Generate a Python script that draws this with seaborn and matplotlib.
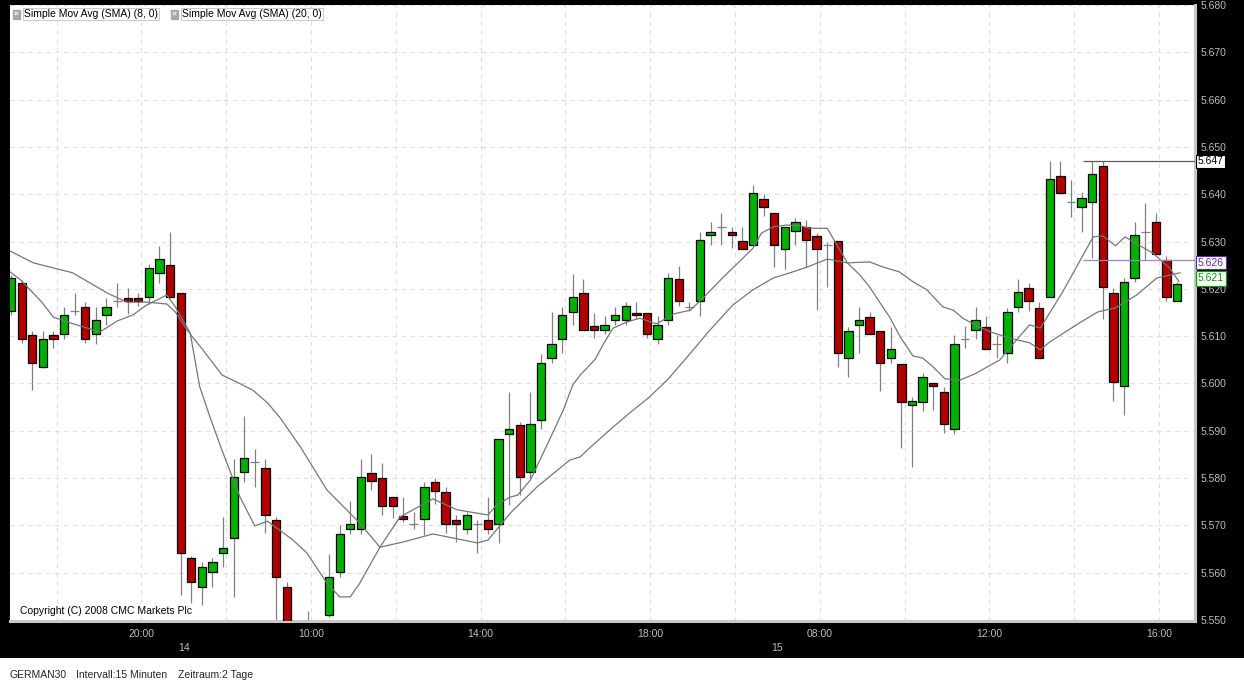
import matplotlib
matplotlib.use("Agg")
import matplotlib.pyplot as plt
import matplotlib.transforms as mtransforms
from matplotlib.patches import Rectangle
import seaborn as sns
import numpy as np

# GERMAN30, 15 minute candles (index 0 = first candle on the left)
opens = [5.6153, 5.6212, 5.6102, 5.6035, 5.6102, 5.6105, 5.6153, 5.6162, 5.6105, 5.6145,
         5.6174, 5.6181, 5.6181, 5.6183, 5.6234, 5.6250, 5.6191, 5.5631, 5.5570, 5.5602,
         5.5642, 5.5673, 5.5813, 5.5834, 5.5821, 5.5711, 5.5570, 5.5480, 5.5450, 5.5470,
         5.5511, 5.5602, 5.5692, 5.5692, 5.5811, 5.5800, 5.5760, 5.5720, 5.5703, 5.5714,
         5.5792, 5.5771, 5.5711, 5.5692, 5.5703, 5.5711, 5.5703, 5.5893, 5.5912, 5.5813,
         5.5923, 5.6054, 5.6094, 5.6151, 5.6191, 5.6122, 5.6113, 5.6134, 5.6134, 5.6149,
         5.6149, 5.6094, 5.6134, 5.6221, 5.6162, 5.6174, 5.6314, 5.6331, 5.6320, 5.6301,
         5.6293, 5.6390, 5.6360, 5.6284, 5.6322, 5.6331, 5.6312, 5.6293, 5.6301, 5.6054,
         5.6124, 5.6140, 5.6111, 5.6054, 5.6041, 5.5955, 5.5961, 5.6001, 5.5982, 5.5904,
         5.6094, 5.6113, 5.6119, 5.6083, 5.6064, 5.6162, 5.6202, 5.6160, 5.6183, 5.6439,
         5.6384, 5.6373, 5.6384, 5.6460, 5.6191, 5.5995, 5.6223, 5.6320, 5.6341, 5.6261,
         5.6174]
highs = [5.6230, 5.6219, 5.6111, 5.6111, 5.6111, 5.6162, 5.6191, 5.6172, 5.6162, 5.6181,
         5.6212, 5.6202, 5.6191, 5.6253, 5.6291, 5.6320, 5.6191, 5.5635, 5.5623, 5.5631,
         5.5718, 5.5840, 5.5931, 5.5862, 5.5840, 5.5718, 5.5580, 5.5490, 5.5519, 5.5490,
         5.5640, 5.5701, 5.5752, 5.5840, 5.5851, 5.5832, 5.5760, 5.5760, 5.5728, 5.5792,
         5.5800, 5.5781, 5.5722, 5.5728, 5.5711, 5.5760, 5.5883, 5.5982, 5.5919, 5.5982,
         5.6062, 5.6151, 5.6162, 5.6231, 5.6221, 5.6149, 5.6143, 5.6162, 5.6172, 5.6172,
         5.6149, 5.6143, 5.6234, 5.6248, 5.6172, 5.6320, 5.6341, 5.6360, 5.6331, 5.6331,
         5.6420, 5.6400, 5.6360, 5.6331, 5.6350, 5.6346, 5.6318, 5.6299, 5.6301, 5.6119,
         5.6162, 5.6151, 5.6111, 5.6119, 5.6041, 5.5971, 5.6022, 5.6001, 5.5993, 5.6102,
         5.6122, 5.6162, 5.6143, 5.6102, 5.6160, 5.6221, 5.6212, 5.6172, 5.6470, 5.6470,
         5.6430, 5.6405, 5.6470, 5.6470, 5.6202, 5.6223, 5.6341, 5.6381, 5.6360, 5.6270,
         5.6215]
lows = [5.6145, 5.6086, 5.5986, 5.6033, 5.6075, 5.6094, 5.6145, 5.6086, 5.6083, 5.6124,
        5.6162, 5.6147, 5.6164, 5.6168, 5.6212, 5.6181, 5.5553, 5.5536, 5.5532, 5.5570,
        5.5612, 5.5549, 5.5792, 5.5781, 5.5684, 5.5495, 5.5460, 5.5430, 5.5425, 5.5440,
        5.5506, 5.5591, 5.5682, 5.5682, 5.5775, 5.5722, 5.5716, 5.5707, 5.5692, 5.5680,
        5.5745, 5.5684, 5.5665, 5.5682, 5.5642, 5.5682, 5.5663, 5.5743, 5.5764, 5.5800,
        5.5904, 5.6043, 5.6064, 5.6124, 5.6113, 5.6096, 5.6105, 5.6124, 5.6124, 5.6136,
        5.6096, 5.6083, 5.6124, 5.6164, 5.6153, 5.6143, 5.6293, 5.6293, 5.6286, 5.6284,
        5.6293, 5.6354, 5.6246, 5.6242, 5.6293, 5.6246, 5.6155, 5.6204, 5.6035, 5.6014,
        5.6064, 5.6105, 5.5984, 5.6043, 5.5864, 5.5823, 5.5942, 5.5944, 5.5895, 5.5893,
        5.6075, 5.6094, 5.6073, 5.6054, 5.6043, 5.6151, 5.6153, 5.6054, 5.6183, 5.6403,
        5.6352, 5.6320, 5.6265, 5.6136, 5.5963, 5.5933, 5.6215, 5.6261, 5.6274, 5.6174,
        5.6174]
closes = [5.6223, 5.6094, 5.6043, 5.6094, 5.6094, 5.6145, 5.6153, 5.6094, 5.6134, 5.6162,
          5.6174, 5.6174, 5.6174, 5.6244, 5.6263, 5.6183, 5.5642, 5.5580, 5.5612, 5.5623,
          5.5652, 5.5802, 5.5843, 5.5834, 5.5722, 5.5591, 5.5480, 5.5450, 5.5470, 5.5480,
          5.5591, 5.5682, 5.5703, 5.5802, 5.5794, 5.5741, 5.5741, 5.5714, 5.5703, 5.5781,
          5.5773, 5.5703, 5.5703, 5.5722, 5.5703, 5.5692, 5.5883, 5.5904, 5.5802, 5.5914,
          5.6043, 5.6083, 5.6145, 5.6183, 5.6113, 5.6113, 5.6124, 5.6145, 5.6164, 5.6145,
          5.6105, 5.6124, 5.6223, 5.6174, 5.6162, 5.6303, 5.6320, 5.6331, 5.6314, 5.6284,
          5.6403, 5.6373, 5.6293, 5.6331, 5.6341, 5.6303, 5.6284, 5.6293, 5.6064, 5.6111,
          5.6134, 5.6105, 5.6043, 5.6073, 5.5961, 5.5963, 5.6014, 5.5995, 5.5914, 5.6083,
          5.6094, 5.6134, 5.6073, 5.6083, 5.6151, 5.6193, 5.6174, 5.6054, 5.6432, 5.6403,
          5.6384, 5.6392, 5.6443, 5.6204, 5.6003, 5.6215, 5.6314, 5.6320, 5.6274, 5.6183,
          5.6210]

# moving averages (candle index, value)
sma8_pos = [-0.1, 0.9, 2.9, 4.0, 5.6, 8.4, 10.0, 11.5, 12.8, 14.7, 15.5, 16.9, 17.8, 18.8,
            19.9, 21.6, 23.0, 24.2, 26.6, 27.9, 29.8, 31.0, 32.0, 32.9, 34.8, 36.7, 39.8,
            42.1, 45.0, 45.8, 47.1, 47.8, 49.0, 50.8, 52.1, 53.0, 53.7, 54.6, 55.1, 56.0,
            56.8, 58.1, 59.3, 60.9, 62.5, 64.1, 65.3, 67.2, 68.5, 70.0, 70.8, 71.9, 73.2,
            74.4, 75.4, 77.0, 78.9, 80.1, 81.0, 82.0, 82.9, 83.9, 85.1, 86.0, 87.0, 88.1,
            89.5, 90.9, 92.1, 93.3, 94.2, 96.1, 97.1, 99.2, 102.1, 103.0, 104.2, 105.1,
            106.2, 107.7, 109.3, 110.2]
sma8_val = [5.6236, 5.6219, 5.6172, 5.6140, 5.6128, 5.6109, 5.6132, 5.6145, 5.6166, 5.6187,
            5.6162, 5.6107, 5.5993, 5.5927, 5.5859, 5.5760, 5.5699, 5.5709, 5.5669, 5.5642,
            5.5578, 5.5549, 5.5549, 5.5578, 5.5654, 5.5718, 5.5756, 5.5733, 5.5722, 5.5743,
            5.5760, 5.5764, 5.5796, 5.5881, 5.5944, 5.5997, 5.6018, 5.6039, 5.6051, 5.6088,
            5.6117, 5.6130, 5.6138, 5.6126, 5.6147, 5.6155, 5.6181, 5.6225, 5.6253, 5.6286,
            5.6318, 5.6331, 5.6335, 5.6333, 5.6328, 5.6328, 5.6255, 5.6229, 5.6204, 5.6170,
            5.6140, 5.6098, 5.6058, 5.6054, 5.6035, 5.6010, 5.6007, 5.6020, 5.6035, 5.6050,
            5.6075, 5.6124, 5.6117, 5.6193, 5.6310, 5.6312, 5.6291, 5.6310, 5.6295, 5.6276,
            5.6244, 5.6215]
sma20_pos = [-0.1, 2.1, 5.8, 9.1, 10.9, 12.8, 14.7, 15.5, 16.6, 18.1, 19.9, 21.3, 22.8,
             24.2, 25.4, 27.3, 29.8, 32.9, 34.8, 37.0, 39.8, 44.0, 45.0, 47.1, 49.6, 52.7,
             53.7, 54.6, 56.8, 58.7, 60.1, 61.9, 64.1, 65.7, 68.1, 70.0, 71.9, 73.5, 75.1,
             77.0, 78.9, 81.0, 82.3, 83.8, 85.1, 86.4, 87.9, 88.9, 89.8, 91.1, 92.4, 94.2,
             96.1, 97.1, 98.0, 100.8, 102.5, 104.2, 106.2, 108.1, 109.3, 110.3]
sma20_val = [5.6280, 5.6255, 5.6234, 5.6191, 5.6172, 5.6172, 5.6168, 5.6151, 5.6113, 5.6071,
             5.6018, 5.6003, 5.5986, 5.5959, 5.5927, 5.5866, 5.5775, 5.5705, 5.5654, 5.5665,
             5.5682, 5.5663, 5.5669, 5.5726, 5.5781, 5.5838, 5.5845, 5.5864, 5.5908, 5.5944,
             5.5969, 5.6007, 5.6064, 5.6107, 5.6166, 5.6198, 5.6223, 5.6234, 5.6246, 5.6263,
             5.6255, 5.6257, 5.6246, 5.6236, 5.6215, 5.6198, 5.6162, 5.6155, 5.6138, 5.6122,
             5.6109, 5.6096, 5.6086, 5.6071, 5.6088, 5.6128, 5.6151, 5.6160, 5.6187, 5.6223,
             5.6229, 5.6234]

time_labels = ["20:00", "10:00", "14:00", "18:00", "08:00", "12:00", "16:00"]
time_label_idx = [12, 28, 44, 60, 76, 92, 108]
grid_idx = [4, 12, 20, 28, 36, 44, 52, 60, 68, 76, 84, 92, 100, 108]
date_labels = ["14", "15"]
date_idx = [16, 72]

high_line = 5.647
mid_line = 5.626
last_close = 5.621

W, H = 1244, 684
RED = "#b20000"
GREEN = "#00b200"
WICK = "#808080"
LABEL = "#bdbdbd"
SHIFT = 0.3  # grid sits between candles

sns.set_style("white")
plt.rcParams["font.family"] = ["Liberation Sans", "DejaVu Sans"]

fig = plt.figure(figsize=(W / 100, H / 100), dpi=100, facecolor="black")
fig.add_artist(Rectangle((0, 0), 1, 26 / H, transform=fig.transFigure,
                         facecolor="white", edgecolor="none", zorder=0))
ax = fig.add_axes([10 / W, 1 - 621 / H, 1185 / W, 616 / H])
ax.set_facecolor("white")

o = np.array(opens)
h = np.array(highs)
l = np.array(lows)
c = np.array(closes)
idx = np.arange(len(o))
up = c > o
down = c < o
flat = c == o

ax.vlines(idx, l, h, color=WICK, lw=0.9, zorder=2)
ax.bar(idx[up], (c - o)[up], bottom=o[up], width=0.78, color=GREEN,
       edgecolor="black", linewidth=0.9, zorder=3)
ax.bar(idx[down], (o - c)[down], bottom=c[down], width=0.78, color=RED,
       edgecolor="black", linewidth=0.9, zorder=3)
ax.hlines(c[flat], idx[flat] - 0.42, idx[flat] + 0.42, color=WICK, lw=0.9, zorder=3)

sns.lineplot(x=sma8_pos, y=sma8_val, ax=ax, color="#777777", lw=0.9, zorder=4)
sns.lineplot(x=sma20_pos, y=sma20_val, ax=ax, color="#777777", lw=0.9, zorder=4)

xmax = 111.7
ax.hlines(high_line, 101.1, xmax, color="#5a5a5a", lw=0.9, zorder=5)
ax.hlines(mid_line, 101.1, xmax, color="#9d86c4", lw=0.9, zorder=5)

ax.set_xlim(-0.1, xmax)
ax.set_ylim(5.5498, 5.6800)

# x axis: grid every 2h, labels every 4h
ax.set_xticks([g + SHIFT for g in grid_idx])
ax.set_xticklabels([time_labels[time_label_idx.index(g)] if g in time_label_idx else ""
                    for g in grid_idx])
ax.tick_params(axis="x", length=0, pad=6, labelcolor=LABEL, labelsize=7.5)
tx = mtransforms.blended_transform_factory(ax.transData, fig.transFigure)
for lab, d in zip(date_labels, date_idx):
    ax.text(d + SHIFT, 1 - 648 / H, lab, transform=tx, ha="center", va="center",
            fontsize=7.5, color=LABEL, clip_on=False)

# y axis on the right
ax.yaxis.tick_right()
ax.set_yticks(np.round(np.arange(5.55, 5.6801, 0.01), 3))
ax.yaxis.set_major_formatter(matplotlib.ticker.FormatStrFormatter("%.3f"))
ax.tick_params(axis="y", length=0, pad=4, labelcolor=LABEL, labelsize=7.5)

ax.grid(True, color="#dedede", linestyle=(0, (4, 4)), lw=0.8)
ax.set_axisbelow(True)
for s in ["top", "left"]:
    ax.spines[s].set_visible(False)
for s in ["right", "bottom"]:
    ax.spines[s].set_color("#c8c8c8")
    ax.spines[s].set_linewidth(2.2)

# price boxes on the axis
ty = mtransforms.blended_transform_factory(ax.transAxes, ax.transData)
ax.text(1.0025, high_line, "5.647", transform=ty, ha="left", va="center", fontsize=7.5,
        color="black", clip_on=False, zorder=10,
        bbox=dict(boxstyle="square,pad=0.15", fc="white", ec="black", lw=0.8))
ax.text(1.0025, 5.6255, "5.626", transform=ty, ha="left", va="center", fontsize=7.5,
        color="#5b2c9a", clip_on=False, zorder=10,
        bbox=dict(boxstyle="square,pad=0.15", fc="white", ec="#5b2c9a", lw=0.8))
ax.text(1.0025, 5.6222, "5.621", transform=ty, ha="left", va="center", fontsize=7.5,
        color="#00a000", clip_on=False, zorder=11,
        bbox=dict(boxstyle="square,pad=0.2", fc="white", ec="#00a000", lw=0.9))

# legend boxes top left
for px, txt in [(13, "Simple Mov Avg (SMA) (8, 0)"), (171, "Simple Mov Avg (SMA) (20, 0)")]:
    fig.text((px + 3.5) / W, 1 - 14 / H, "×", ha="center", va="center", fontsize=6,
             color="white", fontweight="bold",
             bbox=dict(boxstyle="square,pad=0.12", fc="#a8a8a8", ec="#a8a8a8"))
    fig.text((px + 11) / W, 1 - 14 / H, txt, ha="left", va="center", fontsize=7.5,
             color="black",
             bbox=dict(boxstyle="square,pad=0.12", fc="white", ec="#c0c0c0", lw=0.6))

fig.text(20 / W, 1 - 611 / H, "Copyright (C) 2008 CMC Markets Plc", ha="left",
         va="center", fontsize=7.5, color="black")

fig.text(10 / W, 1 - 675 / H, "GERMAN30", ha="left", va="center", fontsize=7.5)
fig.text(76 / W, 1 - 675 / H, "Intervall:15 Minuten", ha="left", va="center", fontsize=7.5)
fig.text(178 / W, 1 - 675 / H, "Zeitraum:2 Tage", ha="left", va="center", fontsize=7.5)

fig.savefig("out.png", dpi=100, facecolor="black")
